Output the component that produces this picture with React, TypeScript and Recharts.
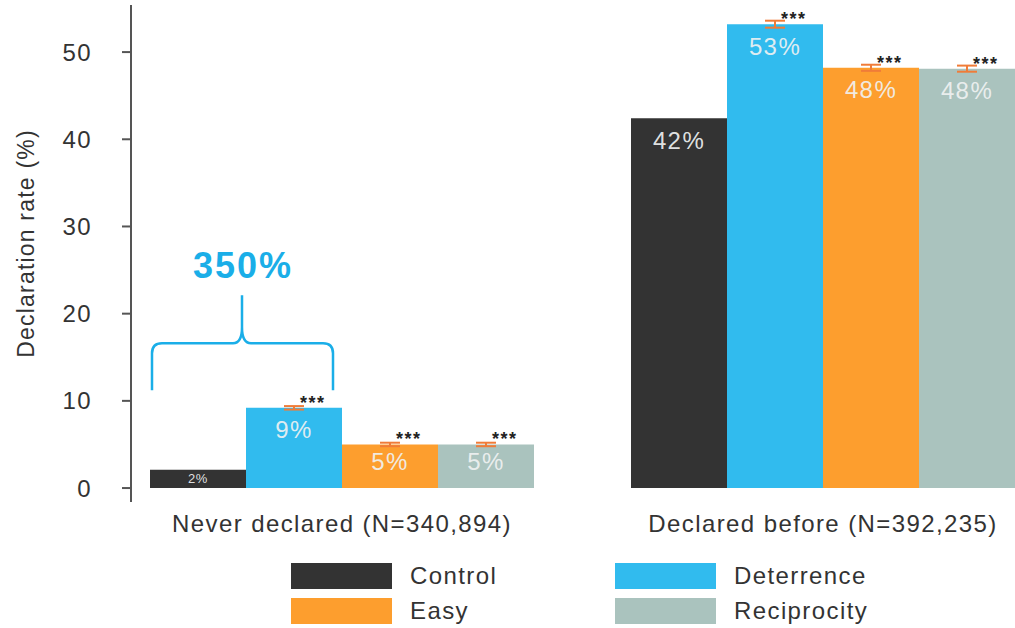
import React from "react";
import {
  BarChart,
  Bar,
  XAxis,
  YAxis,
  Legend,
  LabelList,
  ErrorBar,
  ReferenceDot,
} from "recharts";

const groups = ["Never declared (N=340,894)", "Declared before (N=392,235)"];
const control = [2.1, 42.4];
const deterrence = [9.2, 53.2];
const easy = [5.0, 48.2];
const reciprocity = [5.0, 48.1];
const deterrenceErr = [0.2, 0.4];
const easyErr = [0.2, 0.35];
const reciprocityErr = [0.2, 0.35];
const yTicks = [0, 10, 20, 30, 40, 50];
const annotationText = "350%";
const annotationLevel = 16.6;

const data = groups.map((g, i) => ({
  group: g,
  control: control[i],
  deterrence: deterrence[i],
  easy: easy[i],
  reciprocity: reciprocity[i],
  deterrenceErr: deterrenceErr[i],
  easyErr: easyErr[i],
  reciprocityErr: reciprocityErr[i],
}));

const series = [
  { key: "control", name: "Control", color: "#333333", err: null, stars: false },
  { key: "deterrence", name: "Deterrence", color: "#31bbee", err: "deterrenceErr", stars: true },
  { key: "easy", name: "Easy", color: "#fd9e2e", err: "easyErr", stars: true },
  { key: "reciprocity", name: "Reciprocity", color: "#aac3be", err: "reciprocityErr", stars: true },
];

const FONT = '"Liberation Sans", Arial, Helvetica, sans-serif';
const SPACING = 1.4;

const ValueLabel = (props: any) => {
  const { x, y, width, height, value } = props;
  const small = value < 3;
  const cx = x + width / 2;
  const cy = small ? y + height / 2 : y + Math.min(22, height * 0.39);
  return (
    <text
      x={cx}
      y={cy}
      textAnchor="middle"
      dominantBaseline="central"
      fontSize={small ? 13 : 24}
      letterSpacing={small ? 0.6 : SPACING}
      fill="#f0f2f2"
      fillOpacity={0.92}
      fontFamily={FONT}
    >
      {Math.round(value)}%
    </text>
  );
};

const StarLabel = (props: any) => {
  const { x, y, width } = props;
  return (
    <text
      x={x + width / 2 + 6}
      y={y + 1}
      textAnchor="start"
      fontSize={18}
      fontWeight="bold"
      letterSpacing={1.5}
      fill="#222"
      fontFamily={FONT}
    >
      ***
    </text>
  );
};

const Brace = (props: any) => {
  const { cx, cy } = props;
  if (cx == null || cy == null) return null;
  const x0 = cx - 190;
  const x1 = cx - 9;
  const xm = cx - 100;
  const legs = 47;
  const d = [
    `M ${x0} ${cy + legs} L ${x0} ${cy + 10} Q ${x0} ${cy} ${x0 + 10} ${cy} L ${xm - 9} ${cy} Q ${xm} ${cy} ${xm} ${cy - 16} L ${xm} ${cy - 48}`,
    `M ${x1} ${cy + legs} L ${x1} ${cy + 10} Q ${x1} ${cy} ${x1 - 10} ${cy} L ${xm + 9} ${cy} Q ${xm} ${cy} ${xm} ${cy - 16}`,
  ].join(" ");
  return (
    <g>
      <path d={d} fill="none" stroke="#1aaee8" strokeWidth={2.5} />
      <text
        x={xm + 1}
        y={cy - 78}
        textAnchor="middle"
        dominantBaseline="central"
        fontSize={36}
        fontWeight="bold"
        letterSpacing={2}
        fill="#1aaee8"
        fontFamily={FONT}
      >
        {annotationText}
      </text>
    </g>
  );
};

const LegendContent = () => {
  const cols = [291, 615];
  const rows = [5, 40];
  return (
    <div style={{ position: "relative", width: 1015, height: 70, fontFamily: FONT }}>
      {series.map((s, i) => {
        const left = cols[i % 2];
        const top = rows[Math.floor(i / 2)];
        return (
          <React.Fragment key={s.key}>
            <div
              style={{
                position: "absolute",
                left,
                top,
                width: 101,
                height: 26,
                background: s.color,
              }}
            />
            <div
              style={{
                position: "absolute",
                left: left + 119,
                top: top - 2,
                height: 30,
                lineHeight: "30px",
                fontSize: 24,
                letterSpacing: SPACING,
                color: "#333",
                whiteSpace: "nowrap",
              }}
            >
              {s.name}
            </div>
          </React.Fragment>
        );
      })}
    </div>
  );
};

const YLabel = (props: any) => {
  const vb = props.viewBox || {};
  const cy = (vb.y ?? 0) + (vb.height ?? 0) / 2 - 10;
  const cx = 26;
  return (
    <text
      x={cx}
      y={cy}
      transform={`rotate(-90 ${cx} ${cy})`}
      textAnchor="middle"
      dominantBaseline="central"
      fontSize={23}
      letterSpacing={1.2}
      fill="#333"
      fontFamily={FONT}
    >
      Declaration rate (%)
    </text>
  );
};

export default function App() {
  return (
    <div
      style={{
        position: "absolute",
        left: 0,
        top: 0,
        width: 1015,
        height: 628,
        overflow: "hidden",
        background: "#fff",
        fontFamily: FONT,
      }}
    >
      <BarChart
        width={1015}
        height={628}
        data={data}
        margin={{ top: 5, right: 0, bottom: 0, left: 0 }}
        barCategoryGap={48.5}
        barGap={0}
        style={{ fontFamily: FONT }}
      >
        <XAxis
          dataKey="group"
          type="category"
          padding={{ left: -29.5, right: -48.5 }}
          axisLine={false}
          tickLine={false}
          tickSize={0}
          tickMargin={13}
          height={56}
          interval={0}
          tick={{ fontSize: 24, fill: "#333", letterSpacing: SPACING }}
        />
        <YAxis
          type="number"
          domain={[-1.6, 55.4]}
          ticks={yTicks}
          width={131}
          tickSize={9}
          tickMargin={30}
          axisLine={{ stroke: "#555", strokeWidth: 2 }}
          tickLine={{ stroke: "#555", strokeWidth: 2 }}
          tick={{ fontSize: 24, fill: "#333", letterSpacing: SPACING }}
          label={<YLabel />}
        />
        {series.map((s) => (
          <Bar key={s.key} dataKey={s.key} name={s.name} fill={s.color} isAnimationActive={false}>
            {s.err && (
              <ErrorBar
                dataKey={s.err}
                width={10}
                stroke="#f07c38"
                strokeWidth={2}
                direction="y"
                isAnimationActive={false}
              />
            )}
            <LabelList dataKey={s.key} content={<ValueLabel />} />
            {s.stars && <LabelList dataKey={s.key} content={<StarLabel />} />}
          </Bar>
        ))}
        <ReferenceDot
          x={groups[0]}
          y={annotationLevel}
          r={0}
          ifOverflow="visible"
          shape={(p: any) => <Brace {...p} />}
        />
        <Legend
          verticalAlign="bottom"
          height={70}
          wrapperStyle={{ left: 0, width: 1015 }}
          content={<LegendContent />}
        />
      </BarChart>
    </div>
  );
}
